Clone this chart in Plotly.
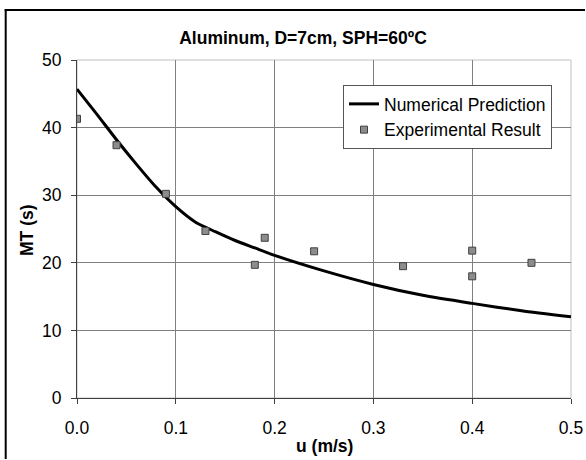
import plotly.graph_objects as go

# Experimental results
u_exp = [0.0, 0.04, 0.09, 0.13, 0.18, 0.19, 0.24, 0.33, 0.40, 0.40, 0.46]
mt_exp = [41.3, 37.4, 30.2, 24.7, 19.7, 23.7, 21.7, 19.5, 21.8, 18.0, 20.0]

# Numerical prediction
u_num = [0.0, 0.02, 0.04, 0.06, 0.08, 0.10, 0.12, 0.14, 0.16, 0.18, 0.20, 0.25, 0.30, 0.35, 0.40, 0.45, 0.50]
mt_num = [45.7, 42.0, 38.2, 34.6, 31.2, 28.3, 26.0, 24.6, 23.3, 22.2, 21.1, 18.8, 16.8, 15.2, 14.0, 12.9, 12.0]

x_ticks = [0.0, 0.1, 0.2, 0.3, 0.4, 0.5]
y_ticks = [0, 10, 20, 30, 40, 50]

FONT = "Liberation Sans, Arial, sans-serif"
FS = 17.5

fig = go.Figure()
fig.add_trace(go.Scatter(
    x=u_num, y=mt_num, mode="lines", name="Numerical Prediction",
    line=dict(color="black", width=3, shape="spline", smoothing=0.6),
))
fig.add_trace(go.Scatter(
    x=u_exp, y=mt_exp, mode="markers", name="Experimental Result",
    marker=dict(symbol="square", size=7, color="#8c8c8c",
                line=dict(color="#404040", width=1)),
))

W, H = 586, 460
ML, MR, MT, MB = 77, 15, 60, 62
PW, PH = W - ML - MR, H - MT - MB

def px_to_paper_x(px):
    return (px - ML) / PW

def px_to_paper_y(py):
    return (H - MB - py) / PH

# light gray plot frame (top/right)
fig.add_shape(type="rect", xref="paper", yref="paper", x0=0, x1=1, y0=0, y1=1,
              line=dict(color="#c0c0c0", width=1), layer="below")
# outer chart border: left and top edges
fig.add_shape(type="line", xref="paper", yref="paper",
              x0=px_to_paper_x(5.7), x1=px_to_paper_x(5.7),
              y0=px_to_paper_y(459), y1=px_to_paper_y(9),
              line=dict(color="black", width=2))
fig.add_shape(type="line", xref="paper", yref="paper",
              x0=px_to_paper_x(4.7), x1=px_to_paper_x(585),
              y0=px_to_paper_y(10), y1=px_to_paper_y(10),
              line=dict(color="black", width=2))

# axis titles placed as annotations
fig.add_annotation(text="<b>MT (s)</b>", xref="paper", yref="paper",
                   x=px_to_paper_x(27), y=px_to_paper_y(230), textangle=-90,
                   showarrow=False, xanchor="center", yanchor="middle",
                   font=dict(family=FONT, size=FS, color="black"))
fig.add_annotation(text="<b>u (m/s)</b>", xref="paper", yref="paper",
                   x=px_to_paper_x(324), y=px_to_paper_y(446),
                   showarrow=False, xanchor="center", yanchor="middle",
                   font=dict(family=FONT, size=FS, color="black"))

fig.update_layout(
    width=W, height=H,
    margin=dict(l=ML, r=MR, t=MT, b=MB, pad=0, autoexpand=False),
    paper_bgcolor="white", plot_bgcolor="white",
    font=dict(family=FONT, size=FS, color="black"),
    title=dict(text="<b>Aluminum, D=7cm, SPH=60ºC</b>",
               x=px_to_paper_x(303), xref="paper", xanchor="center",
               y=1 - 38 / H, yref="container", yanchor="middle",
               font=dict(family=FONT, size=FS, color="black")),
    showlegend=True,
    legend=dict(x=px_to_paper_x(343), y=px_to_paper_y(85), xanchor="left", yanchor="top",
                bgcolor="white", bordercolor="#555555", borderwidth=1,
                font=dict(family=FONT, size=FS, color="black")),
    xaxis=dict(range=[0, 0.5], tickvals=x_ticks, ticktext=[f"{v:.1f}" for v in x_ticks],
               showgrid=True, gridcolor="#808080", gridwidth=1,
               showline=True, linecolor="#404040", linewidth=1,
               ticks="outside", ticklen=5, tickcolor="#404040",
               ticklabelstandoff=9, automargin=False,
               zeroline=False),
    yaxis=dict(range=[0, 50], tickvals=y_ticks,
               showgrid=True, gridcolor="#808080", gridwidth=1,
               showline=True, linecolor="#404040", linewidth=1,
               ticks="outside", ticklen=5, tickcolor="#404040",
               ticklabelstandoff=6, automargin=False,
               zeroline=False),
)

fig.write_html("out.html")
